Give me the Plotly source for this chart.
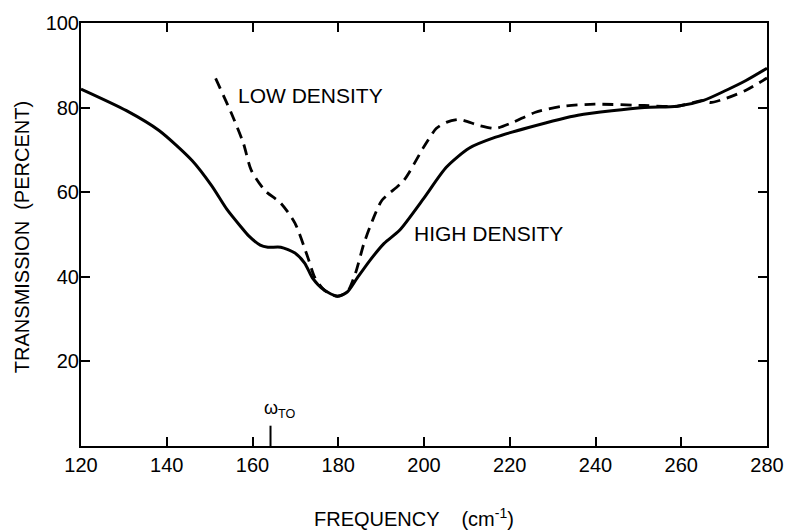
import plotly.graph_objects as go

# High density (solid) curve
high_freq = [120, 130.6, 138.2, 145.9, 150.5, 154.0, 157.4, 159.0, 161.8, 163.6, 166.6, 169.9,
             172.2, 174.0, 176.8, 179.8, 182.1, 184.4, 187.4, 190.7, 194.3, 199.9, 205.2,
             210.5, 216.7, 224.4, 235.9, 251.4, 259.0, 265.2, 270.5, 275.1, 280]
high_trans = [84.4, 79.3, 74.6, 67.5, 61.5, 56.0, 51.7, 49.8, 47.5, 47.0, 47.0, 45.6,
              43.2, 39.7, 36.8, 35.4, 36.4, 39.7, 43.9, 47.9, 51.0, 58.5, 65.9,
              70.4, 73.0, 75.3, 78.2, 80.0, 80.3, 81.7, 84.1, 86.4, 89.3]

# Low density (dashed) curve
low_freq = [151.4, 155.1, 157.9, 159.7, 162.9, 166.6, 169.9, 172.9, 174.5, 176.8, 179.8,
            182.1, 184.0, 186.0, 188.3, 190.2, 195.3, 199.9, 202.9, 205.2, 208.2, 212.8,
            216.7, 220.7, 226.0, 232.2, 239.8, 251.4, 259.0, 265.2, 266.8, 270.5, 275.1, 280]
low_trans = [86.9, 78.6, 71.5, 65.2, 60.4, 57.4, 52.7, 44.6, 39.9, 36.8, 35.4,
             36.4, 40.8, 47.9, 54.1, 58.1, 62.8, 70.6, 75.1, 76.5, 77.2, 75.8,
             75.1, 76.5, 78.9, 80.3, 80.8, 80.5, 80.3, 81.7, 81.2, 82.2, 84.1, 87.0]

x_ticks = [120, 140, 160, 180, 200, 220, 240, 260, 280]
y_ticks = [20, 40, 60, 80, 100]
omega_to = [164.2]

font_family = "Liberation Sans, Arial, sans-serif"

fig = go.Figure()
fig.add_trace(go.Scatter(x=high_freq, y=high_trans, mode="lines",
                         line=dict(color="black", width=3, shape="spline", smoothing=0.7),
                         showlegend=False))
fig.add_trace(go.Scatter(x=low_freq, y=low_trans, mode="lines",
                         line=dict(color="black", width=2.8, dash="11px,7px", shape="spline", smoothing=0.7),
                         showlegend=False))

for w in omega_to:
    fig.add_shape(type="line", x0=w, x1=w, y0=0, y1=4.8, xref="x", yref="y",
                  line=dict(color="black", width=2))
    fig.add_annotation(x=w, y=5.5, xref="x", yref="y", text="ω<sub>TO</sub>",
                       showarrow=False, yanchor="bottom", xanchor="left", xshift=-9,
                       font=dict(family=font_family, size=18, color="black"))

fig.add_annotation(x=173.6, y=82.9, text="LOW DENSITY", showarrow=False,
                   font=dict(family=font_family, size=21, color="black"))
fig.add_annotation(x=215.1, y=50.3, text="HIGH DENSITY", showarrow=False,
                   font=dict(family=font_family, size=21, color="black"))

fig.add_annotation(x=0.486, y=-0.168, xref="paper", yref="paper", text="FREQUENCY    (cm<sup>-1</sup>)",
                   showarrow=False, yanchor="middle",
                   font=dict(family=font_family, size=20, color="black"))
fig.add_annotation(x=-0.085, y=0.493, xref="paper", yref="paper", text="TRANSMISSION  (PERCENT)",
                   showarrow=False, textangle=-90, xanchor="center", yanchor="middle",
                   font=dict(family=font_family, size=20, color="black"))

fig.update_xaxes(range=[120, 280], tickvals=x_ticks, ticks="inside", ticklen=9, tickwidth=2,
                 tickcolor="black", showline=True, linecolor="black", linewidth=2, mirror="ticks",
                 showgrid=False, zeroline=False,
                 tickfont=dict(family=font_family, size=20, color="black"))
fig.update_yaxes(range=[0, 100], tickvals=y_ticks, ticks="inside", ticklen=9, tickwidth=2,
                 tickcolor="black", showline=True, linecolor="black", linewidth=2, mirror="ticks",
                 showgrid=False, zeroline=False, ticklabelstandoff=-4,
                 tickfont=dict(family=font_family, size=20, color="black"))

fig.update_layout(width=796, height=531, margin=dict(l=81, r=22, t=22, b=85),
                  plot_bgcolor="white", paper_bgcolor="white", showlegend=False)

fig.write_html("out.html")
